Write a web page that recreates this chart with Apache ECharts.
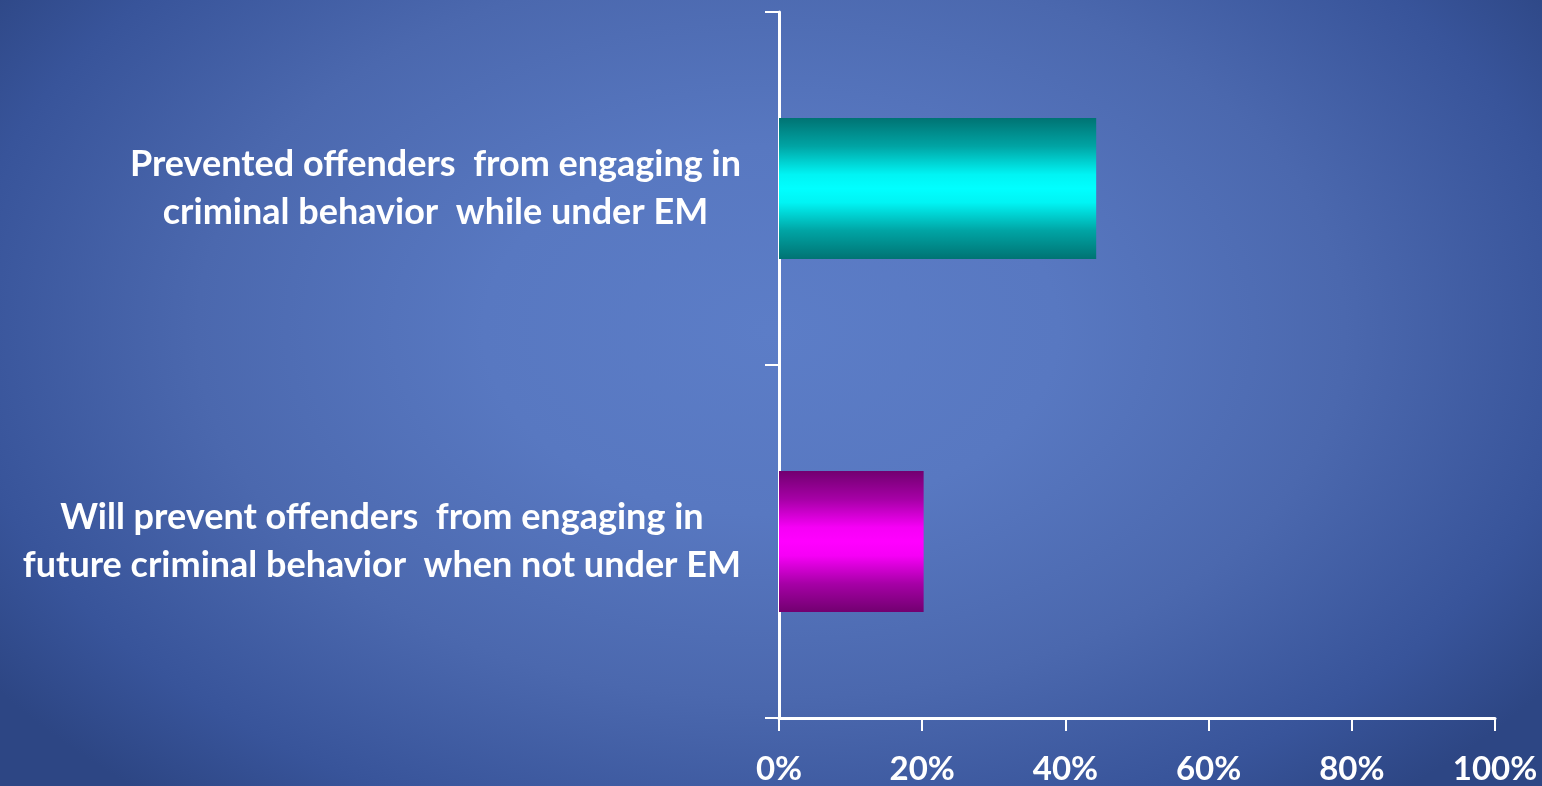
<!DOCTYPE html>
<html>
<head>
<meta charset="utf-8">
<title>Electronic monitoring outcomes</title>
<script src="https://cdn.jsdelivr.net/npm/echarts@6/dist/echarts.min.js"></script>
<style>
  html, body { margin: 0; padding: 0; width: 100%; height: 100%; overflow: hidden; }
  body {
    background: radial-gradient(ellipse 62% 78% at 50% 42%, #5c7dc7 0%, #5878c1 30%, #4b68ae 60%, #38549a 85%, #2d4684 100%);
  }
  #chart { width: 1542px; height: 786px; }
</style>
</head>
<body>
<div id="chart"></div>
<script>
// Category labels, each split into its two display lines
const categories = [
  ['Prevented offenders  from engaging in', 'criminal behavior  while under EM'],
  ['Will prevent offenders  from engaging in', 'future criminal behavior  when not under EM']
];
// Share of respondents (%)
const values = [44.3, 20.2];
// Percent scale ticks
const xTicks = { min: 0, max: 100, interval: 20 };

const cyanBar = new echarts.graphic.LinearGradient(0, 0, 0, 1, [
  { offset: 0, color: '#007373' },
  { offset: 0.2, color: '#00a4a4' },
  { offset: 0.4, color: '#00f4f4' },
  { offset: 0.5, color: '#00ffff' },
  { offset: 0.6, color: '#00f4f4' },
  { offset: 0.8, color: '#00a4a4' },
  { offset: 1, color: '#007373' }
]);
const magentaBar = new echarts.graphic.LinearGradient(0, 0, 0, 1, [
  { offset: 0, color: '#720070' },
  { offset: 0.2, color: '#a600a6' },
  { offset: 0.4, color: '#f600f6' },
  { offset: 0.5, color: '#ff00ff' },
  { offset: 0.6, color: '#f600f6' },
  { offset: 0.8, color: '#a600a6' },
  { offset: 1, color: '#720070' }
]);
const barColors = [cyanBar, magentaBar];

const chart = echarts.init(document.getElementById('chart'), null, { renderer: 'canvas' });

chart.setOption({
  backgroundColor: 'transparent',
  animation: false,
  grid: { left: 779, right: 47, top: 12, bottom: 68, containLabel: false },
  xAxis: {
    type: 'value',
    min: xTicks.min,
    max: xTicks.max,
    interval: xTicks.interval,
    splitLine: { show: false },
    axisLine: { show: true, lineStyle: { color: '#ffffff', width: 3 } },
    axisTick: { show: true, length: 13, lineStyle: { color: '#ffffff', width: 2 } },
    axisLabel: {
      color: '#ffffff',
      fontFamily: 'Lato',
      fontWeight: 'bold',
      fontSize: 33,
      margin: 35,
      formatter: '{value}%'
    }
  },
  yAxis: {
    type: 'category',
    inverse: true,
    data: categories.map(c => c.join('\n')),
    axisLine: { show: true, lineStyle: { color: '#ffffff', width: 3 } },
    axisTick: { show: true, length: 14, lineStyle: { color: '#ffffff', width: 2 } },
    axisLabel: {
      margin: 38,
      formatter: function (v) {
        return v.split('\n').map(l => '{c|' + l + '}').join('\n');
      },
      rich: {
        c: {
          color: '#ffffff',
          fontFamily: 'Lato',
          fontWeight: 'bold',
          fontSize: 36,
          lineHeight: 48,
          align: 'center'
        }
      }
    }
  },
  series: [{
    type: 'bar',
    barWidth: 141,
    data: values.map((v, i) => ({ value: v, itemStyle: { color: barColors[i] } }))
  }]
});
</script>
</body>
</html>
